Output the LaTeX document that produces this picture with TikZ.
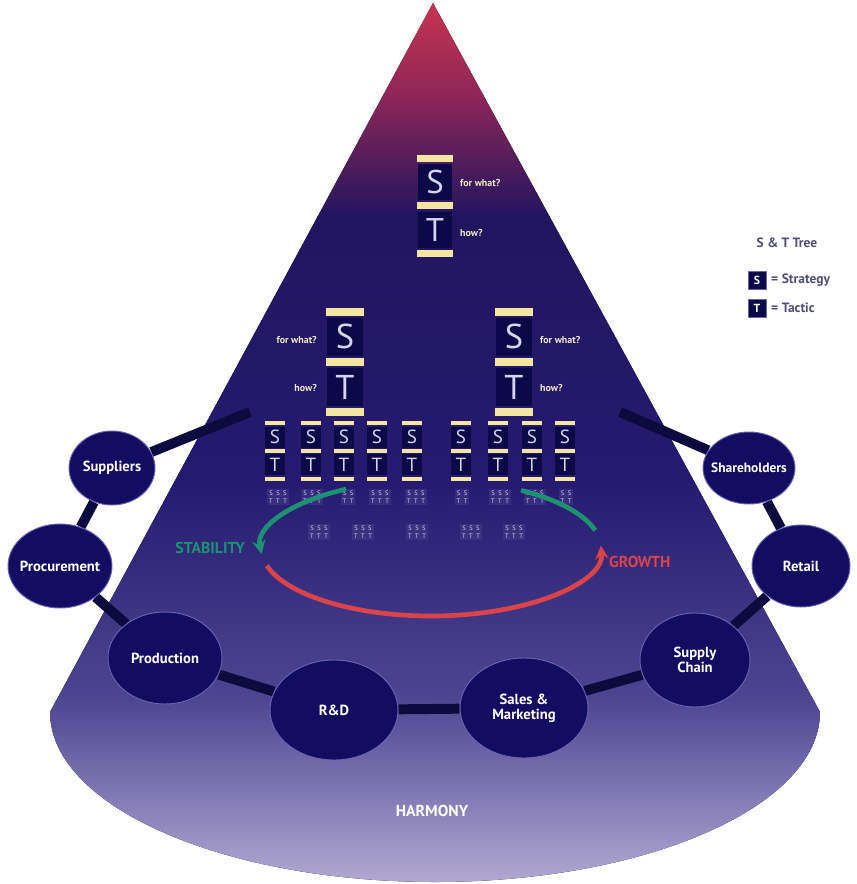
\documentclass[tikz,border=0pt]{standalone}
\usepackage{fontspec}
\setmainfont{PT Sans}
\usetikzlibrary{shapes.geometric}
\definecolor{cone0}{HTML}{C83450}
\definecolor{cone1}{HTML}{8E2657}
\definecolor{cone2}{HTML}{22155F}
\definecolor{cone3}{HTML}{251A70}
\definecolor{cone4}{HTML}{4E4692}
\definecolor{cone5}{HTML}{B2AAD2}
\definecolor{ellnavy}{HTML}{130D62}
\definecolor{ellrim}{HTML}{6A64B0}
\definecolor{linknavy}{HTML}{0D0B3E}
\definecolor{barcream}{HTML}{F2E6A2}
\definecolor{boxnavy}{HTML}{0B0948}
\definecolor{letterlav}{HTML}{D6D4EE}
\definecolor{askcream}{HTML}{F0E8C8}
\definecolor{stabgreen}{HTML}{1C9272}
\definecolor{growred}{HTML}{D9434A}
\definecolor{legendgrey}{HTML}{4E4E78}
\pgfdeclarelayer{bg}
\pgfdeclarelayer{links}
\pgfsetlayers{bg,links,main}
\tikzset{
  stbar/.style={fill=barcream},
  stbox/.style={fill=boxnavy},
  stletter/.style={text=letterlav,inner sep=0pt,font=\fontsize{28}{28}\selectfont},
  stunit/.pic={
    \begin{scope}[scale=#1,transform shape]
      \fill[stbar] (-18,-51) rectangle (18,-44);
      \fill[stbox] (-17,-42) rectangle (17,-6);
      \fill[stbar] (-18,-3.5) rectangle (18,3.5);
      \fill[stbox] (-17,6) rectangle (17,42);
      \fill[stbar] (-18,44) rectangle (18,51);
      \node[stletter] (-s) at (0,-24) {S};
      \node[stletter] (-t) at (0,24) {T};
    \end{scope}
  }
}
\begin{document}
\begin{tikzpicture}[x=0.3mm,y=-0.3mm,>=stealth,line join=round,line cap=round,
  ell/.style={ellipse,fill=ellnavy,draw=ellrim,line width=0.8pt,inner sep=0pt},
  lbl/.style={text=white,align=center,font=\fontsize{12.5}{13}\selectfont\bfseries},
  link/.style={linknavy,line width=8.5pt},
  ask/.style={text=askcream,inner sep=0pt,font=\fontsize{8.5}{9}\selectfont\bfseries},
  tinyst/.style={text=letterlav,align=center,fill=cone4,fill opacity=0.4,text opacity=1,
    inner sep=1.5pt,font=\fontsize{5.5}{6.5}\selectfont},
  loop/.style={line width=4pt,line cap=butt},
  lbox/.style={fill=boxnavy,draw=ellrim,minimum size=5.4mm,inner sep=0pt,text=white,
    font=\fontsize{10}{10}\selectfont\bfseries},
  lgd/.style={text=legendgrey,inner sep=0pt,font=\fontsize{11.5}{12}\selectfont\bfseries},
  big/.style={font=\fontsize{13.5}{14}\selectfont\bfseries}]
\useasboundingbox (0,0) rectangle (856,884);
% cone
\begin{pgfonlayer}{bg}
\begin{scope}
\clip (433,3) -- (820,712) arc[start angle=0,end angle=180,x radius=385,y radius=170] -- cycle;
\fill[top color=cone0,bottom color=cone1] (0,0) rectangle (856,96);
\fill[top color=cone1,bottom color=cone2] (0,95) rectangle (856,216);
\fill[top color=cone2,bottom color=cone3] (0,215) rectangle (856,481);
\fill[top color=cone3,bottom color=cone4] (0,480) rectangle (856,701);
\fill[top color=cone4,bottom color=cone5] (0,700) rectangle (856,884);
\end{scope}
\end{pgfonlayer}
% S&T tree
\pic (top) at (435,206) {stunit=1};
\node[ask,anchor=west] (topw) at (460,183) {for what?};
\node[ask,anchor=west] (toph) at (460,233) {how?};
\pic (ml) at (345,362) {stunit=1.05};
\pic (mr) at (514,362) {stunit=1.05};
\node[ask,anchor=east] (mlw) at (317,340) {for what?};
\node[ask,anchor=east] (mlh) at (317,388) {how?};
\node[ask,anchor=west] (mrw) at (540,340) {for what?};
\node[ask,anchor=west] (mrh) at (540,388) {how?};
\pic (s1) at (275,451) {stunit=0.58};
\pic (s2) at (311,451) {stunit=0.58};
\pic (s3) at (344,451) {stunit=0.58};
\pic (s4) at (377,451) {stunit=0.58};
\pic (s5) at (412,451) {stunit=0.58};
\pic (s6) at (461,451) {stunit=0.58};
\pic (s7) at (498,451) {stunit=0.58};
\pic (s8) at (532,451) {stunit=0.58};
\pic (s9) at (565,451) {stunit=0.58};
\foreach \x/\n [count=\i] in {278/3,312/3,348/2,380/3,416/3,462/2,500/3,535/3,566/2}
  \node[tinyst] (r\i) at (\x,497) {\ifnum\n=3 S\hspace{3pt}S\hspace{3pt}S\\T\hspace{3pt}T\hspace{3pt}T\else S\hspace{3pt}S\\T\hspace{3pt}T\fi};
\foreach \x [count=\i] in {319,363,417,471,514}
  \node[tinyst] (q\i) at (\x,532) {S\hspace{3pt}S\hspace{3pt}S\\T\hspace{3pt}T\hspace{3pt}T};
% stability / growth
\coordinate (oc) at (431,548);
\draw[loop,stabgreen,->] ([shift={(-120:170 and 68)}]oc) arc[start angle=-120,end angle=-185,x radius=170,y radius=68];
\draw[loop,stabgreen] ([shift={(-58:170 and 68)}]oc) arc[start angle=-58,end angle=-15,x radius=170,y radius=68];
\draw[loop,growred,->] ([shift={(165:170 and 68)}]oc) arc[start angle=165,end angle=-2,x radius=170,y radius=68];
\node[big,text=stabgreen,anchor=east] (stab) at (249,548) {STABILITY};
\node[big,text=growred,anchor=west] (grow) at (605,562) {GROWTH};
% value chain
\node[ell,minimum width=25.8mm,minimum height=22.2mm,label={[lbl]center:Suppliers}] (sup) at (112,468) {};
\node[ell,minimum width=31.2mm,minimum height=25.2mm,label={[lbl]center:Procurement}] (pro) at (60,566) {};
\node[ell,minimum width=34.2mm,minimum height=27.6mm,label={[lbl]center:Production}] (prd) at (165,658) {};
\node[ell,minimum width=38.4mm,minimum height=30mm,label={[lbl]center:R\&D}] (rnd) at (334,710) {};
\node[ell,minimum width=38.4mm,minimum height=30mm,label={[lbl]center:{Sales \&\\Marketing}}] (sal) at (524,708) {};
\node[ell,minimum width=33mm,minimum height=28.2mm,label={[lbl]center:{Supply\\Chain}}] (sch) at (695,660) {};
\node[ell,minimum width=29.4mm,minimum height=24.6mm,label={[lbl]center:Retail}] (ret) at (801,566) {};
\node[ell,minimum width=27.6mm,minimum height=21.6mm,label={[lbl,font=\fontsize{11.5}{12}\selectfont\bfseries]center:Shareholders}] (sha) at (749,468) {};
\coordinate (lend) at (250,412);
\coordinate (rend) at (620,412);
\begin{pgfonlayer}{links}
\draw[link] (lend) -- (sup) -- (pro) -- (prd) -- (rnd) -- (sal) -- (sch) -- (ret) -- (sha) -- (rend);
\end{pgfonlayer}
\node[big,text=white] (harm) at (432,811) {HARMONY};
% legend
\node[lgd] (lt) at (787,243) {S \& T Tree};
\node[lbox] (ls) at (757,280) {S};
\node[lgd,anchor=west] (lst) at (771,280) {= Strategy};
\node[lbox] (ltt) at (757,308) {T};
\node[lgd,anchor=west] (ltc) at (771,308) {= Tactic};
\end{tikzpicture}
\end{document}
